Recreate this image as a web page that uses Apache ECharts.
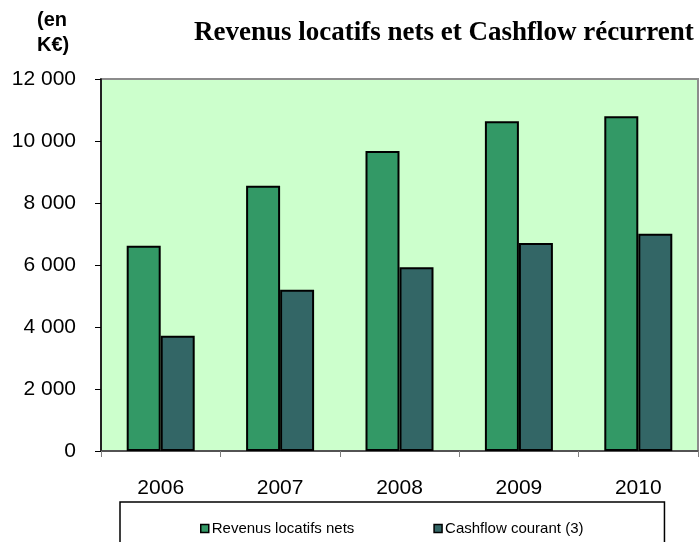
<!DOCTYPE html>
<html>
<head>
<meta charset="utf-8">
<style>
  html, body { margin: 0; padding: 0; background: #ffffff; }
  #chart { width: 700px; height: 542px; }
</style>
<script src="https://cdn.jsdelivr.net/npm/echarts@6/dist/echarts.min.js"></script>
</head>
<body>
<div id="chart"></div>
<script>
// Years on the category axis
const years = ['2006', '2007', '2008', '2009', '2010'];
// Net rental income, in thousands of euros
const revenusLocatifs = [6620, 8560, 9680, 10640, 10800];
// Recurring cash flow, in thousands of euros
const cashflowCourant = [3720, 5200, 5930, 6710, 7010];
// Value axis ticks
const yTicks = [0, 2000, 4000, 6000, 8000, 10000, 12000];

const seriesNames = ['Revenus locatifs nets', 'Cashflow courant (3)'];
const seriesColors = ['#339966', '#336666'];

// French thousands grouping: "12 000"
function frNumber(v) {
  return String(v).replace(/\B(?=(\d{3})+(?!\d))/g, ' ');
}

const chart = echarts.init(document.getElementById('chart'), null, { renderer: 'canvas' });

chart.setOption({
  animation: false,
  backgroundColor: '#ffffff',
  title: {
    text: 'Revenus locatifs nets et Cashflow récurrent',
    left: 189,
    top: 15,
    textStyle: {
      fontFamily: 'Liberation Serif',
      fontWeight: 'bold',
      fontSize: 27,
      color: '#000000'
    }
  },
  graphic: [{
    type: 'text',
    left: 37,
    top: 8,
    style: {
      text: '(en\nK€)',
      fontFamily: 'Liberation Sans',
      fontWeight: 'bold',
      fontSize: 20,
      lineHeight: 25,
      fill: '#000000',
      align: 'center'
    }
  }],
  legend: {
    data: seriesNames,
    left: 120,
    top: 502,
    padding: [19, 81, 30, 80],
    itemGap: 79,
    itemWidth: 8,
    itemHeight: 8,
    icon: 'rect',
    borderColor: '#000000',
    borderWidth: 1.5,
    itemStyle: { borderColor: '#000000', borderWidth: 1.5 },
    textStyle: {
      fontFamily: 'Liberation Sans',
      fontSize: 15,
      color: '#000000',
      padding: [0, 0, 0, -2]
    }
  },
  grid: {
    left: 101,
    right: 2,
    top: 79,
    bottom: 91,
    show: true,
    backgroundColor: '#CCFFCC',
    borderColor: '#8c8c8c',
    borderWidth: 2
  },
  xAxis: {
    type: 'category',
    data: years,
    boundaryGap: true,
    axisLine: { show: true, lineStyle: { color: '#404040', width: 1.5 } },
    axisTick: { show: true, inside: false, length: 6, alignWithLabel: false, lineStyle: { color: '#808080', width: 1 } },
    axisLabel: {
      margin: 27,
      fontFamily: 'Liberation Sans',
      fontSize: 21,
      color: '#000000'
    },
    splitLine: { show: false }
  },
  yAxis: {
    type: 'value',
    min: yTicks[0],
    max: yTicks[yTicks.length - 1],
    interval: yTicks[1] - yTicks[0],
    axisLine: { show: true, lineStyle: { color: '#000000', width: 1.5 } },
    axisTick: { show: true, inside: false, length: 6, lineStyle: { color: '#000000', width: 1 } },
    axisLabel: {
      margin: 25,
      fontFamily: 'Liberation Sans',
      fontSize: 21,
      color: '#000000',
      formatter: frNumber
    },
    splitLine: { show: false }
  },
  series: [
    {
      name: seriesNames[0],
      type: 'bar',
      data: revenusLocatifs,
      barWidth: 34,
      barGap: '0%',
      itemStyle: { color: seriesColors[0], borderColor: '#000000', borderWidth: 2 }
    },
    {
      name: seriesNames[1],
      type: 'bar',
      data: cashflowCourant,
      barWidth: 34,
      barGap: '0%',
      itemStyle: { color: seriesColors[1], borderColor: '#000000', borderWidth: 2 }
    }
  ]
});
</script>
</body>
</html>
